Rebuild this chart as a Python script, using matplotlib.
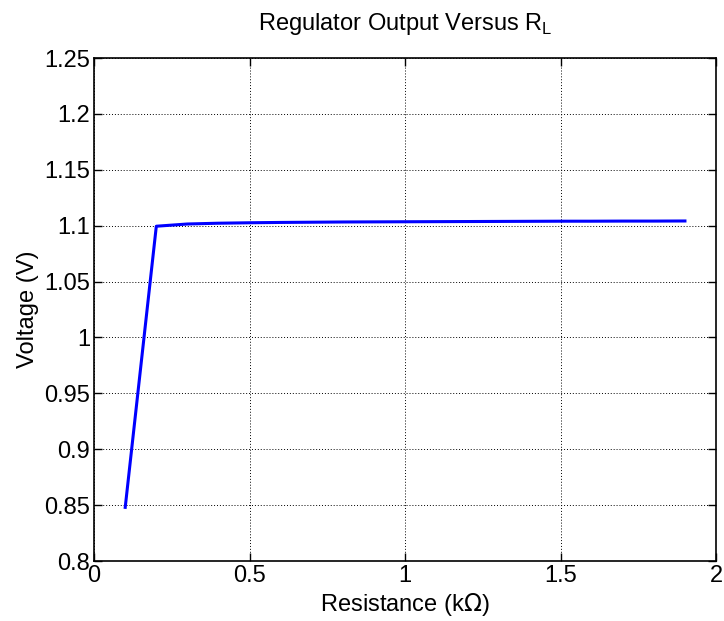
import matplotlib
matplotlib.use("Agg")
import matplotlib.pyplot as plt
import numpy as np

plt.rcParams['font.family'] = ['Liberation Sans', 'DejaVu Sans']

# load resistance sweep (kOhm) and regulator output (V)
resistance = [0.1, 0.2, 0.3, 0.4, 0.5, 0.6, 0.7, 0.8, 0.9, 1.0,
              1.1, 1.2, 1.3, 1.4, 1.5, 1.6, 1.7, 1.8, 1.9]
voltage = [0.848, 1.0995, 1.1015, 1.1022, 1.1026, 1.1029, 1.1031, 1.1033, 1.1034, 1.1035,
           1.1036, 1.1037, 1.1038, 1.1039, 1.1040, 1.1040, 1.1041, 1.1041, 1.1042]

xticks = [0, 0.5, 1, 1.5, 2]
xticklabels = ['0', '0.5', '1', '1.5', '2']
yticks = [0.8, 0.85, 0.9, 0.95, 1.0, 1.05, 1.1, 1.15, 1.2, 1.25]
yticklabels = ['0.8', '0.85', '0.9', '0.95', '1', '1.05', '1.1', '1.15', '1.2', '1.25']

fig = plt.figure(figsize=(7.24, 6.21), dpi=100)
ax = fig.add_axes([0.130, 0.0966, 0.859, 0.810])

ax.plot(resistance, voltage, color='#0000ff', linewidth=2.2)

ax.set_xlim(0, 2)
ax.set_ylim(0.8, 1.25)
ax.set_xticks(xticks)
ax.set_xticklabels(xticklabels)
ax.set_yticks(yticks)
ax.set_yticklabels(yticklabels)
ax.tick_params(direction='in', length=6, width=1, labelsize=17, pad=3,
               top=True, right=True)
ax.grid(True, color='black', linestyle=(0, (1, 2)), linewidth=0.7)
for s in ax.spines.values():
    s.set_linewidth(1.2)

ax.set_xlabel('Resistance (k$\\Omega$)', fontsize=17, labelpad=3)
ax.set_ylabel('Voltage (V)', fontsize=17, labelpad=4)
ax.set_title('Regulator Output Versus R$_\\mathregular{L}$', fontsize=17, pad=20)

fig.savefig('out.png', dpi=100)
